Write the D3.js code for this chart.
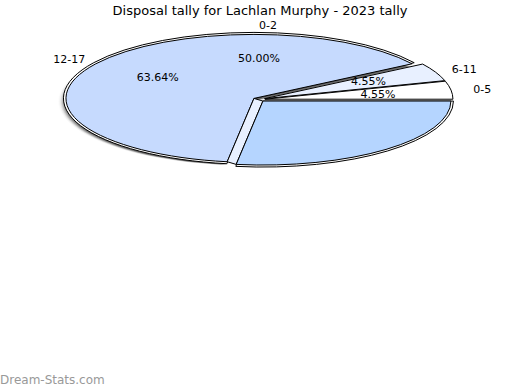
<!DOCTYPE html>
<html>
<head>
<meta charset="utf-8">
<script src="https://cdn.jsdelivr.net/npm/d3@7"></script>
<style>
  body { margin: 0; background: #fff; }
  text { font-family: "DejaVu Sans", sans-serif; }
</style>
</head>
<body>
<div id="chart"></div>
<script>
// slice data, in the order drawn counter-clockwise from 3 o'clock
const categories = ["0-5", "6-11", "12-17", "0-2"];
const values = [1, 1, 14, 6];
const pctLabels = ["4.55%", "4.55%", "63.64%", "50.00%"];
const colors = ["#ffffff", "#e8f0ff", "#c6dafe", "#b5d5ff"];

const width = 520, height = 390;
const cx = 259, cy = 99.5, rx = 188, ry = 64;
const R = 100; // base radius, squashed into an ellipse
const explode = 6;

const svg = d3.select("#chart").append("svg")
    .attr("width", width)
    .attr("height", height);

const defs = svg.append("defs");
defs.append("filter").attr("id", "blur")
    .append("feGaussianBlur").attr("stdDeviation", 1.2);

svg.append("text")
    .attr("x", width / 2).attr("y", 15)
    .attr("text-anchor", "middle")
    .style("font-size", "13px")
    .text("Disposal tally for Lachlan Murphy - 2023 tally");

const pie = d3.pie().sort(null)
    .startAngle(Math.PI / 2)
    .endAngle(Math.PI / 2 - 2 * Math.PI);
const slices = pie(values).map((d, i) => {
    const mid = (d.startAngle + d.endAngle) / 2;
    d.i = i;
    d.mid = mid;
    d.ox = cx + explode * Math.sin(mid);
    d.oy = cy - explode * Math.cos(mid) * ry / rx;
    return d;
});

const arc = d3.arc().innerRadius(0).outerRadius(R);
const sx = rx / R, sy = ry / R;

function pt(d, a) {
    return [d.ox + Math.sin(a) * rx, d.oy - Math.cos(a) * ry];
}

const big = slices[2], low = slices[3];

// soft shadow behind the big slice
svg.append("path")
    .attr("d", arc(big))
    .attr("transform", `translate(${big.ox - 3},${big.oy + 3}) scale(${sx},${sy})`)
    .attr("fill", "#333")
    .attr("opacity", 0.75)
    .attr("filter", "url(#blur)");

// thin rim round the big and lower slices
[big, low].forEach(d => {
    svg.append("path")
        .attr("d", arc(d))
        .attr("transform", `translate(${d.ox},${d.oy}) scale(${(rx + 2.5) / R},${(ry + 2) / R})`)
        .attr("fill", "#fff")
        .attr("stroke", "#000")
        .attr("stroke-width", 1)
        .attr("vector-effect", "non-scaling-stroke");
});

const order = [2, 1, 0, 3];
order.forEach(i => {
    const d = slices[i];
    svg.append("path")
        .attr("d", arc(d))
        .attr("transform", `translate(${d.ox},${d.oy}) scale(${sx},${sy})`)
        .attr("fill", colors[i])
        .attr("stroke", "#000")
        .attr("stroke-width", 1)
        .attr("stroke-linejoin", "round")
        .attr("vector-effect", "non-scaling-stroke");
    if (i === 2) {
        // wall between the exploded big slice and the lower slice
        const p = [[big.ox, big.oy], pt(big, big.endAngle), pt(low, low.startAngle), [low.ox, low.oy]];
        svg.append("path")
            .attr("d", d3.line()(p) + "Z")
            .attr("fill", "#e8f0ff")
            .attr("stroke", "#000")
            .attr("stroke-width", 1);
    }
});

// labels: the 0-2 slice label sits at the top of the pie
const outerAngle = d => d.i === 3 ? 0.04 : d.mid;
const innerAngle = d => d.i === 3 ? 0 : d.mid;
const lab = svg.append("g").style("font-size", "11px").attr("text-anchor", "middle");
slices.forEach(d => {
    const a = outerAngle(d), b = innerAngle(d);
    lab.append("text")
        .attr("x", cx + Math.sin(a) * rx * 1.2)
        .attr("y", cy - Math.cos(a) * ry * 1.16)
        .attr("dy", "0.35em")
        .text(categories[d.i]);
    lab.append("text")
        .attr("x", cx + Math.sin(b) * rx * 0.64)
        .attr("y", cy - Math.cos(b) * ry * 0.64 - (d.i === 1 ? 1 : 0))
        .attr("dy", "0.35em")
        .text(pctLabels[d.i]);
});

svg.append("text")
    .attr("x", 0).attr("y", 384)
    .style("font-size", "12px")
    .attr("fill", "#999")
    .text("Dream-Stats.com");
</script>
</body>
</html>
